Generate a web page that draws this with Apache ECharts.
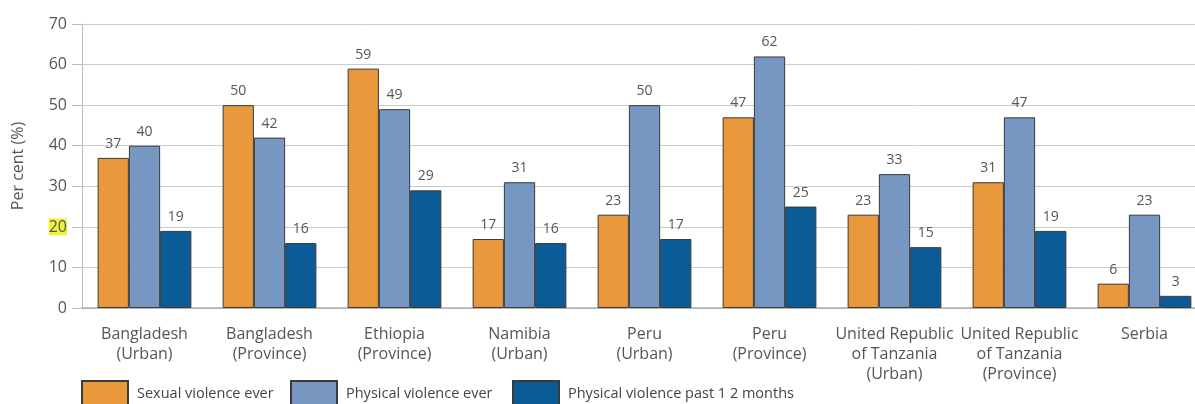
<!DOCTYPE html>
<html>
<head>
<meta charset="utf-8">
<script src="https://cdn.jsdelivr.net/npm/echarts@6/dist/echarts.min.js"></script>
<style>
html,body{margin:0;padding:0;background:#fff;}
#chart{width:1195px;height:404px;}
</style>
</head>
<body>
<div id="chart"></div>
<script>
const categories = [
  "Bangladesh\n(Urban)",
  "Bangladesh\n(Province)",
  "Ethiopia\n(Province)",
  "Namibia\n(Urban)",
  "Peru\n(Urban)",
  "Peru\n(Province)",
  "United Republic\nof Tanzania\n(Urban)",
  "United Republic\nof Tanzania\n(Province)",
  "Serbia"
];
const sexualEver = [37, 50, 59, 17, 23, 47, 23, 31, 6];
const physicalEver = [40, 42, 49, 31, 50, 62, 33, 47, 23];
const physicalPast12 = [19, 16, 29, 16, 17, 25, 15, 19, 3];
const seriesNames = ["Sexual violence ever", "Physical violence ever", "Physical violence past 1 2 months"];
const yTicks = [0, 10, 20, 30, 40, 50, 60, 70];

const colors = ["#E9993B", "#7697C1", "#0B5B97"];
const font = "'Open Sans', 'Liberation Sans', sans-serif";
const textColor = "#555";

const chart = echarts.init(document.getElementById('chart'));
const values = [sexualEver, physicalEver, physicalPast12];

const series = values.map((v, i) => ({
  name: seriesNames[i],
  type: 'bar',
  data: v,
  barGap: '0%',
  barCategoryGap: '25%',
  itemStyle: { color: colors[i], borderColor: '#3a3a3a', borderWidth: 1 },
  label: {
    show: true, position: 'top', distance: 7,
    color: textColor, fontFamily: font, fontSize: 14
  },
  emphasis: { disabled: true }
}));

const legendLefts = [81, 290, 512];
const legends = seriesNames.map((n, i) => ({
  data: [n],
  left: legendLefts[i],
  top: 380,
  padding: 0,
  itemWidth: 46,
  itemHeight: 26,
  icon: 'rect',
  selectedMode: false,
  textStyle: { color: '#444', fontFamily: font, fontSize: 14.5, padding: [0, 0, 0, 4] }
}));

chart.setOption({
  animation: false,
  backgroundColor: '#fff',
  grid: { left: 82, top: 24, width: 1125, height: 284, containLabel: false, outerBoundsMode: 'none' },
  legend: legends,
  xAxis: {
    type: 'category',
    data: categories,
    axisLine: { lineStyle: { color: '#aaa', width: 1.5 } },
    axisTick: { show: false },
    axisLabel: {
      interval: 0, margin: 16, color: textColor, fontFamily: font, fontSize: 16, lineHeight: 20
    }
  },
  yAxis: {
    type: 'value',
    min: 0, max: 70, interval: 10,
    name: 'Per cent (%)',
    nameLocation: 'middle',
    nameRotate: 90,
    nameGap: 56,
    nameTextStyle: { color: textColor, fontFamily: font, fontSize: 16 },
    axisLine: { show: true, lineStyle: { color: '#bbb' } },
    axisTick: { show: true, inside: false, length: 10, lineStyle: { color: '#bbb' } },
    splitLine: { show: true, lineStyle: { color: '#ccc' } },
    axisLabel: {
      margin: 15, color: textColor, fontFamily: font, fontSize: 16,
      formatter: function (v) { return v === 20 ? '{hl|' + v + '}' : String(v); },
      rich: { hl: { backgroundColor: '#F2F23A', color: textColor, fontFamily: font, fontSize: 16, padding: [1, 0, 0, 0] } }
    }
  },
  series: series
});
</script>
</body>
</html>
